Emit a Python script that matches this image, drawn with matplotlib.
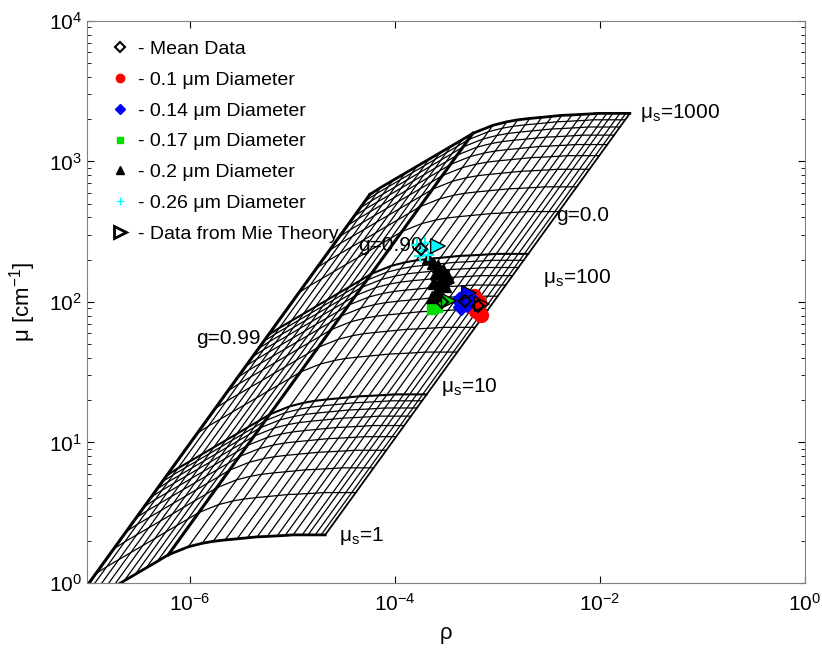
import numpy as np
import matplotlib.pyplot as plt
from matplotlib.lines import Line2D

plt.rcParams['font.family'] = ['Liberation Sans', 'DejaVu Sans']

# lookup grid: rows of constant mu_s, columns of constant g (g=0 ... 0.9 ... 0.99)
mus_rows = [1, 2, 3, 4, 5, 6, 7, 8, 9, 10,
            20, 30, 40, 50, 60, 70, 80, 90, 100,
            200, 300, 400, 500, 600, 700, 800, 900, 1000]
# g=0 corner for mu_s=1, and how that corner moves per decade of mu_s
rho_g0 = 2.1e-5
mu_g0 = 2.2
rho_slope = 0.99
# shift of every g column from the g=0 column, in decades
col_dlogrho = [0, -0.039, -0.097, -0.166, -0.224, -0.312, -0.390, -0.468, -0.565,
               -0.663, -0.760, -0.858, -0.975, -1.092, -1.199, -1.335, -1.530,
               -1.637, -1.745, -1.852, -1.959, -2.076, -2.193, -2.310, -2.427, -2.534]
col_dlogmu = [0, 0, 0, 0, 0, 0, -0.004, -0.007, -0.011, -0.014, -0.021, -0.028,
              -0.036, -0.046, -0.060, -0.085, -0.142,
              -0.189, -0.235, -0.281, -0.327, -0.377, -0.427, -0.477, -0.527, -0.577]
g09_col = 16

# measured points
red_rho = [5.92e-4, 6.62e-4, 6.18e-4, 6.92e-4, 5.53e-4]
red_mu = [110, 100, 86.3, 80.8, 93.6]
blue_rho = [4.23e-4, 4.72e-4, 5.05e-4, 4.41e-4, 5.41e-4]
blue_mu = [103, 110, 96.8, 92.1, 107]
green_rho = [2.41e-4, 2.58e-4, 2.31e-4]
green_mu = [96.8, 92.1, 89.1]
black_rho = [2.11e-4, 2.36e-4, 2.64e-4, 2.95e-4, 3.23e-4, 2.52e-4, 2.76e-4, 3.08e-4,
             2.41e-4, 2.58e-4, 2.31e-4, 2.82e-4]
black_mu = [206, 190, 180, 169, 156, 161, 141, 130, 137, 120, 109, 112]
cyan_rho = [1.64e-4, 1.84e-4, 1.97e-4, 2.11e-4, 1.76e-4]
cyan_mu = [255, 231, 263, 216, 212]
mean_rho = [6.47e-4, 4.83e-4, 2.88e-4, 2.64e-4, 1.80e-4]
mean_mu = [93.6, 102, 100, 144, 238]
mie_rho = [7.08e-4, 5.29e-4, 3.37e-4, 3.23e-4, 2.64e-4]
mie_mu = [96.8, 116, 102, 137, 250]
mie_colors = ['red', 'blue', '#00dd00', 'black', 'cyan']

fig = plt.figure(figsize=(8.22, 6.56), dpi=100)
ax = fig.add_axes([0.1058, 0.1113, 0.8735, 0.8567])
ax.set_xscale('log')
ax.set_yscale('log')

lrho = np.log10(rho_g0) + rho_slope * np.log10(mus_rows)[:, None] + np.array(col_dlogrho)[None, :]
lmu = np.log10(mu_g0) + np.log10(mus_rows)[:, None] + np.array(col_dlogmu)[None, :]
R = 10 ** lrho
M = 10 ** lmu

for i, ms in enumerate(mus_rows):
    lw = 0.9
    if ms in (10, 100):
        lw = 1.5
    if ms in (1, 1000):
        lw = 2.0
    ax.plot(R[i], M[i], color='black', lw=lw, zorder=2)
for j in range(len(col_dlogrho)):
    lw = 0.9
    if j == 0:
        lw = 1.3
    if j == g09_col or j == len(col_dlogrho) - 1:
        lw = 2.2
    ax.plot(R[:, j], M[:, j], color='black', lw=lw, zorder=2)

ax.plot(red_rho, red_mu, 'o', color='red', ms=10, zorder=4)
ax.plot(blue_rho, blue_mu, 'D', color='blue', ms=8, zorder=4)
ax.plot(green_rho, green_mu, 's', color='#00dd00', ms=7, zorder=4)
ax.plot(black_rho, black_mu, '^', color='black', ms=8, zorder=4)
ax.plot(cyan_rho, cyan_mu, '+', color='cyan', ms=9, mew=1.5, zorder=4)
ax.scatter(mie_rho, mie_mu, marker='>', c=mie_colors, s=110, edgecolors='black',
           linewidths=1.0, zorder=5)
ax.plot(mean_rho, mean_mu, 'D', mfc='none', mec='black', mew=1.5, ms=6, zorder=6)

fs = 15
ax.text(0.0248, 2203, 'μ$_\\mathregular{s}$=1000', fontsize=fs, va='center')
ax.text(2.82e-3, 148, 'μ$_\\mathregular{s}$=100', fontsize=fs, va='center')
ax.text(2.8e-4, 24.8, 'μ$_\\mathregular{s}$=10', fontsize=fs, va='center')
ax.text(2.84e-5, 2.16, 'μ$_\\mathregular{s}$=1', fontsize=fs, va='center')
ax.text(3.77e-3, 414, 'g=0.0', fontsize=fs, va='center')
ax.text(1.15e-6, 55.3, 'g=0.99', fontsize=fs, va='center')
ax.text(4.45e-5, 253, 'g=0.90', fontsize=fs, va='center', zorder=3)

ax.set_xlim(1e-7, 1)
ax.set_ylim(1, 1e4)
ax.set_xticks([1e-6, 1e-4, 1e-2, 1])
ax.xaxis.set_minor_locator(plt.NullLocator())
ax.tick_params(which='both', direction='in', top=True, right=True, labelsize=15)
ax.tick_params(which='major', length=5)
ax.tick_params(which='minor', length=3)
for s in ax.spines.values():
    s.set_color('#808080')
ax.tick_params(axis='x', pad=7)
ax.set_xlabel('ρ', fontsize=16, labelpad=6)
ax.set_ylabel('μ [cm$^{\\mathregular{-1}}$]', fontsize=16, labelpad=8)

handles = [
    Line2D([], [], ls='none', marker='D', mfc='none', mec='black', mew=1.5, ms=5),
    Line2D([], [], ls='none', marker='o', color='red', ms=6),
    Line2D([], [], ls='none', marker='D', color='blue', ms=5),
    Line2D([], [], ls='none', marker='s', color='#00dd00', ms=5),
    Line2D([], [], ls='none', marker='^', color='black', ms=6),
    Line2D([], [], ls='none', marker='+', color='cyan', ms=6),
    Line2D([], [], ls='none', marker='>', mfc='none', mec='black', mew=2, ms=9),
]
labels = ['- Mean Data', '- 0.1 μm Diameter', '- 0.14 μm Diameter', '- 0.17 μm Diameter',
          '- 0.2 μm Diameter', '- 0.26 μm Diameter', '- Data from Mie Theory']
ax.legend(handles, labels, loc='upper left', bbox_to_anchor=(0.013, 0.99), frameon=False,
          fontsize=14, handlelength=1.0, handletextpad=0.45, labelspacing=0.68, borderpad=0.2)

fig.savefig('out.png', dpi=100)
